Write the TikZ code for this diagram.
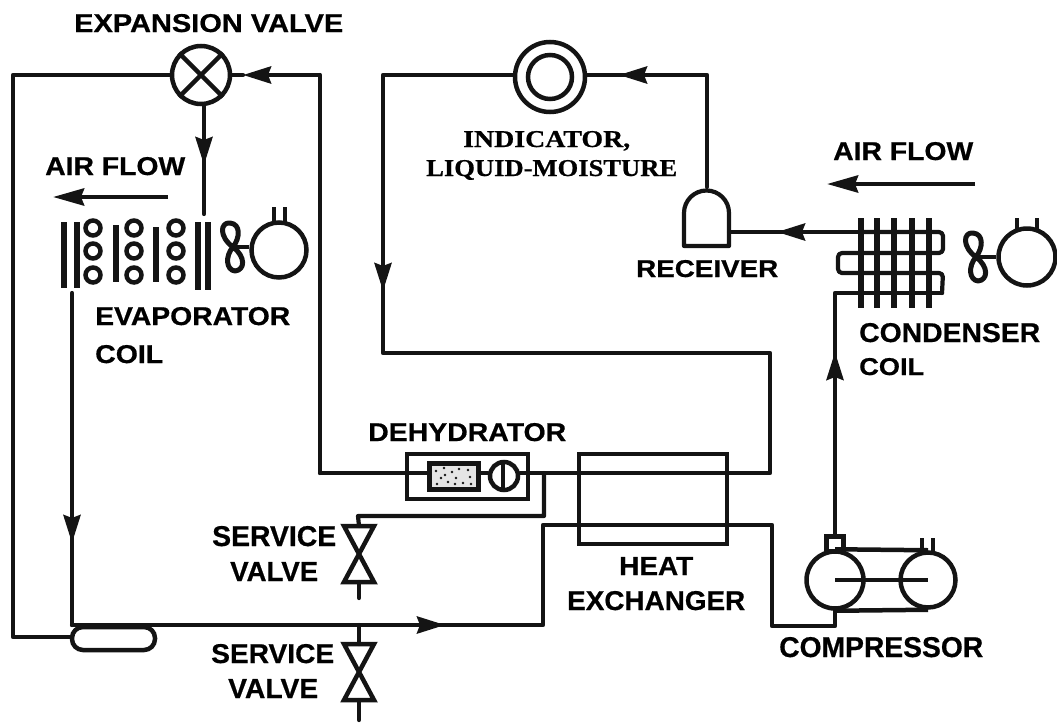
\documentclass[tikz,border=0pt]{standalone}
\usepackage{fontspec}
\setmainfont[BoldFeatures={FakeBold=0.6}]{Liberation Sans}
\newfontfamily\serifb[BoldFeatures={FakeBold=0.6}]{Liberation Serif}
\usetikzlibrary{arrows.meta}
\newcommand{\tlab}[7][\bfseries]{\node[inner sep=0pt,anchor=base west] (#2) at (#3,#6) {\resizebox{\numexpr#4-#3\relax pt}{\numexpr#6-#5\relax pt}{#1#7}};}
\tikzset{
  x=1pt,y=-1pt,
  pipe/.style={draw=ink,line width=4.2pt,line join=round,line cap=round},
  flow/.style={draw=ink,fill=ink,line width=4.2pt,-{Stealth[length=28pt,width=17pt,inset=3pt]}},
  airflow/.style={draw=ink,line width=4.5pt,-{Stealth[length=31pt,width=17pt,inset=3pt]}},
  ring/.style={circle,draw=ink,line width=4.5pt,inner sep=0pt,fill=white},
  box/.style={rectangle,draw=ink,line width=4.5pt,inner sep=0pt},
  fin/.style={draw=ink,line width=5.5pt},
  wire/.style={draw=ink,line width=4.5pt},
  fan/.pic={
    \draw[draw=ink,line width=5pt,line join=round]
      (0,0) .. controls (-14,-10) and (-13,-25) .. (-3,-24)
            .. controls (8,-23) and (7,-9) .. (0,0)
            .. controls (-8,9) and (-7,23) .. (2,24)
            .. controls (12,23) and (13,10) .. (0,0);
  },
  svalve/.pic={
    \draw[draw=ink,line width=4.5pt,line join=miter]
      (-15,0) -- (15,0) -- (-15,56) -- (15,56) -- cycle;
  }
}
\definecolor{ink}{HTML}{141414}
\begin{document}
\begin{tikzpicture}
\useasboundingbox (0,0) rectangle (1057,723);
% ---- main components
\node[ring,minimum size=58pt] (ev) at (201,75) {};
\node[ring,minimum size=70pt] (ind) at (550,77) {};
\node[ring,minimum size=44pt] (indin) at (550,77) {};
\node[ring,minimum size=55pt] (m1) at (279,250) {};
\node[ring,minimum size=57pt] (m2) at (1027,257) {};
\node[ring,minimum size=57pt] (cl) at (835,580) {};
\node[ring,minimum size=55pt] (cr) at (928,580) {};
\draw[wire] (ev.north west) -- (ev.south east) (ev.north east) -- (ev.south west);
% ---- junction coordinates
\coordinate (tl) at (13,75);
\coordinate (bl) at (13,637);
\coordinate (tr) at (320,75);
\coordinate (dl) at (320,473);
\coordinate (evtip) at (243,75);
\coordinate (vtip) at (204,165);
\coordinate (vend) at (204,214);
\coordinate (evout) at (72,293);
\coordinate (evtipb) at (72,543);
\coordinate (ac) at (72,625);
\coordinate (tee) at (544,473);
\coordinate (t1) at (544,516);
\coordinate (t2) at (358,516);
\coordinate (b1) at (543,625);
\coordinate (b2) at (543,525);
\coordinate (b3) at (772,525);
\coordinate (b4) at (772,626);
\coordinate (b5) at (835,626);
\coordinate (btip) at (445,625);
\coordinate (r1) at (770,473);
\coordinate (r2) at (770,353);
\coordinate (r3) at (383,353);
\coordinate (r4) at (383,75);
\coordinate (rtip) at (383,291);
\coordinate (rc1) at (707,75);
\coordinate (rc2) at (707,187);
\coordinate (itip) at (619,75);
\coordinate (ctip) at (777,232);
\coordinate (cout) at (861,232);
\coordinate (cin) at (835,293);
\coordinate (cuptip) at (835,352);
\coordinate (v1) at (359,526);
\coordinate (v1b) at (359,582);
\coordinate (v1e) at (359,598);
\coordinate (v2) at (359,644);
\coordinate (v2b) at (359,700);
\coordinate (v2e) at (359,720);
% ---- receiver, accumulator, dehydrator, exchanger
\node[box,rounded corners=11pt,minimum width=83pt,minimum height=23pt] (acc) at (113.5,638.5) {};
\node[box,minimum width=121pt,minimum height=45pt] (deh) at (467.5,476.5) {};
\node[box,fill=black!10,minimum width=49pt,minimum height=26pt,line width=5pt] (filter) at (453.5,476) {};
\node[ring,minimum size=28pt] (sight) at (504,476) {};
\node[box,minimum width=148pt,minimum height=90pt] (hx) at (653,499) {};
\draw[pipe] (684,246) -- (729,246) -- (729,213) arc[start angle=0,end angle=-180,radius=22.5] -- cycle;
\coordinate (rin) at (729,232);
% ---- lines through the exchanger / dehydrator
\draw[pipe] (evtip) -- (ev.east);
\draw[flow] (tr) -- (evtip);
\draw[pipe] (dl) -- (tr);
\draw[pipe] (ev.west) -- (tl) -- (bl) -- (acc.west |- bl);
\draw[pipe] (dl) -- (filter.west |- dl);
\draw[pipe] (filter.east |- dl) -- (sight.west |- dl);
\draw[pipe] (sight.east |- dl) -- (r1) -- (r2) -- (r3) -- (r4) -- (ind.west |- r4);
\draw[flow] (r4) -- (rtip);
\draw[pipe] (ev.south -| vend) -- (vend);
\draw[flow] (ev.south -| vend) -- (vtip);
\draw[pipe] (evout) -- (ac);
\draw[flow] (evout) -- (evtipb);
\draw[pipe] (ac) -- (b1) -- (b2) -- (b3) -- (b4) -- (b5) -- (cl.south);
\draw[flow] (ac) -- (btip);
\draw[pipe] (tee) -- (t1) -- (t2) -- (v1);
\draw[pipe] (v1b) -- (v1e);
\draw[pipe] (v2 |- ac) -- (v2);
\draw[pipe] (v2b) -- (v2e);
\pic at (v1) {svalve};
\pic at (v2) {svalve};
% indicator and receiver connections
\draw[pipe] (rc2) -- (rc1) -- (ind.east |- rc1);
\draw[flow] (rc1) -- (itip);
\draw[pipe] (cout) -- (rin);
\draw[flow] (cout) -- (ctip);
% sight glass bar and filter speckle
\draw[wire] (sight.north) ++(-1,0) -- ++(0,28);
\foreach \p in {(436,471),(444,468),(452,472),(459,469),(468,470),(470,477),(441,478),(448,482),(456,478),(463,483),(471,484),(437,484),(445,475),(455,484)}
  \fill[ink] \p circle (1.3pt);
% ---- evaporator coil
\foreach \fx/\ya/\yb in {64/222/288,77/222/288,116/225/282,156/227/282,198/222/290,208/222/290}
  \draw[fin] (\fx,\ya) -- (\fx,\yb);
\foreach \cx in {93,134,176} \foreach \cy in {228,251,275}
  \node[ring,minimum size=15pt] at (\cx,\cy) {};
\draw[wire] (274,224) -- (274,207) (285,224) -- (285,207);
\coordinate (fa) at (233,247);
\pic at (fa) {fan};
\draw[wire] (fa) -- (m1.west |- fa);
% ---- condenser coil
\coordinate (cq1) at (942,293);
\draw[pipe] (cuptip) -- (cin) -- (cq1);
\draw[pipe,rounded corners=4pt] (cq1) -- (943,273) -- (838,273) -- (838,253) -- (943,253) -- (943,232) -- (cout);
\draw[flow] (835,400) -- (cuptip);
\node[box,minimum width=17pt,minimum height=15pt,fill=white] (head) at (835,544) {};
\draw[pipe] (head.north) -- (cuptip);
\foreach \fx in {861,877,894,912,929}
  \draw[fin] (\fx,218) -- (\fx,308);
\draw[wire] (1017,230) -- (1017,218) (1037,230) -- (1037,218);
\coordinate (fb) at (976,257);
\pic at (fb) {fan};
\draw[wire] (fb) -- (m2.west |- fb);
% ---- compressor
\draw[wire] (cl.north) -- (cr.north);
\draw[wire] (cl.south) -- (cr.south);
\draw[wire] (cl.center) -- (cr.center);
\draw[wire] (922,552) -- (922,538) (933,552) -- (933,538);
% ---- air-flow arrows
\coordinate (a1s) at (168,197); \coordinate (a1e) at (53,197);
\coordinate (a2s) at (975,184); \coordinate (a2e) at (827,184);
\draw[airflow] (a1s) -- (a1e);
\draw[airflow] (a2s) -- (a2e);
% ---- labels
\tlab{lev}{74}{343}{14}{32}{EXPANSION VALVE}
\tlab{laf1}{45}{185}{157}{175}{AIR FLOW}
\tlab{laf2}{833}{973}{142}{160}{AIR FLOW}
\tlab[\serifb\bfseries]{lind1}{463}{630}{131}{147}{INDICATOR,}
\tlab[\serifb\bfseries]{lind2}{426}{677}{160}{176}{LIQUID-MOISTURE}
\tlab{lrc}{636}{778}{260}{277}{RECEIVER}
\tlab{lec1}{95}{290}{307}{325}{EVAPORATOR}
\tlab{lec2}{95}{163}{345}{363}{COIL}
\tlab{lcc1}{859}{1040}{323}{342}{CONDENSER}
\tlab{lcc2}{859}{924}{358}{375}{COIL}
\tlab{ldh}{368}{566}{423}{441}{DEHYDRATOR}
\tlab{lsv1}{212}{336}{526}{546}{SERVICE}
\tlab{lsv2}{230}{318}{562}{581}{VALVE}
\tlab{lsv3}{211}{334}{644}{663}{SERVICE}
\tlab{lsv4}{228}{318}{679}{698}{VALVE}
\tlab{lhe1}{619}{693}{557}{575}{HEAT}
\tlab{lhe2}{567}{745}{591}{610}{EXCHANGER}
\tlab{lcp}{779}{983}{637}{657}{COMPRESSOR}
\end{tikzpicture}
\end{document}
